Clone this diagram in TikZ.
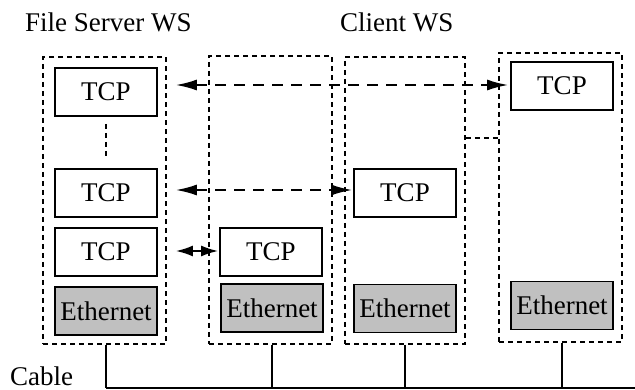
\documentclass[tikz,border=0pt]{standalone}
\usepackage{fontspec}
\setmainfont{Liberation Serif}
\usetikzlibrary{arrows.meta}
\definecolor{ethgray}{HTML}{C0C0C0}
\begin{document}
\begin{tikzpicture}[x=1pt,y=-1pt,
  font=\fontsize{27}{31}\selectfont,
  container/.style={draw, line width=1.8pt, dash pattern=on 5pt off 4pt, inner sep=0pt},
  tcpbox/.style={draw, line width=1.8pt, minimum width=102pt, minimum height=48pt, inner sep=0pt, fill=white},
  ethbox/.style={tcpbox, fill=ethgray},
  darr/.style={line width=1.8pt, dash pattern=on 11pt off 8pt, {Latex[length=21pt,width=11pt]}-{Latex[length=21pt,width=11pt]}},
  sarr/.style={line width=1.8pt, {Latex[length=17pt,width=11pt]}-{Latex[length=17pt,width=11pt]}},
  cable/.style={line width=1.8pt},
  label/.style={anchor=base west, inner sep=0pt}]
\useasboundingbox (0,0) rectangle (635,390);
% containers
\node[container, minimum width=123pt, minimum height=287pt] (c1) at (104.5,200.5) {};
\node[container, minimum width=123pt, minimum height=288pt] (c2) at (270.5,200) {};
\node[container, minimum width=120pt, minimum height=287pt] (c3) at (405,200.5) {};
\node[container, minimum width=123pt, minimum height=289pt] (c4) at (560.5,197.5) {};
% boxes
\node[tcpbox] (tA1) at (106,92) {TCP};
\node[tcpbox] (tA2) at (106,193) {TCP};
\node[tcpbox] (tA3) at (106,252) {TCP};
\node[ethbox] (eA) at (106,311) {Ethernet};
\node[tcpbox] (tB) at (271,252) {TCP};
\node[ethbox] (eB) at (272,308) {Ethernet};
\node[tcpbox] (tC) at (405,193) {TCP};
\node[ethbox] (eC) at (405,308.5) {Ethernet};
\node[tcpbox] (tD) at (562,86) {TCP};
\node[ethbox] (eD) at (562,305.5) {Ethernet};
% labels
\node[label] (lfs) at (25,32) {File Server WS};
\node[label] (lcl) at (340,32) {Client WS};
\node[label] (lcb) at (10,385) {Cable};
% dotted link inside c1
\draw[container, shorten <=7pt, shorten >=9pt] (tA1.south) -- (tA2.north);
% link between c3 and c4
\coordinate (m34) at (482,138);
\draw[container] (c3.east |- m34) -- (c4.west |- m34);
% arrows
\draw[darr, shorten <=9pt, shorten >=2pt] (c1.east |- 0,85) -- (tD.west |- 0,85);
\draw[darr, shorten <=9pt, shorten >=1pt] (c1.east |- 0,190) -- (tC.west |- 0,190);
\draw[sarr, shorten <=9pt, shorten >=1pt] (c1.east |- 0,251) -- (tB.west |- 0,251);
% cable
\coordinate (cend) at (635,388);
\draw[cable] (eA |- cend) -- (cend);
\draw[cable] (eA |- c1.south) -- (eA |- cend);
\draw[cable] (eB |- c2.south) -- (eB |- cend);
\draw[cable] (eC |- c3.south) -- (eC |- cend);
\draw[cable] (eD |- c4.south) -- (eD |- cend);
\end{tikzpicture}
\end{document}
